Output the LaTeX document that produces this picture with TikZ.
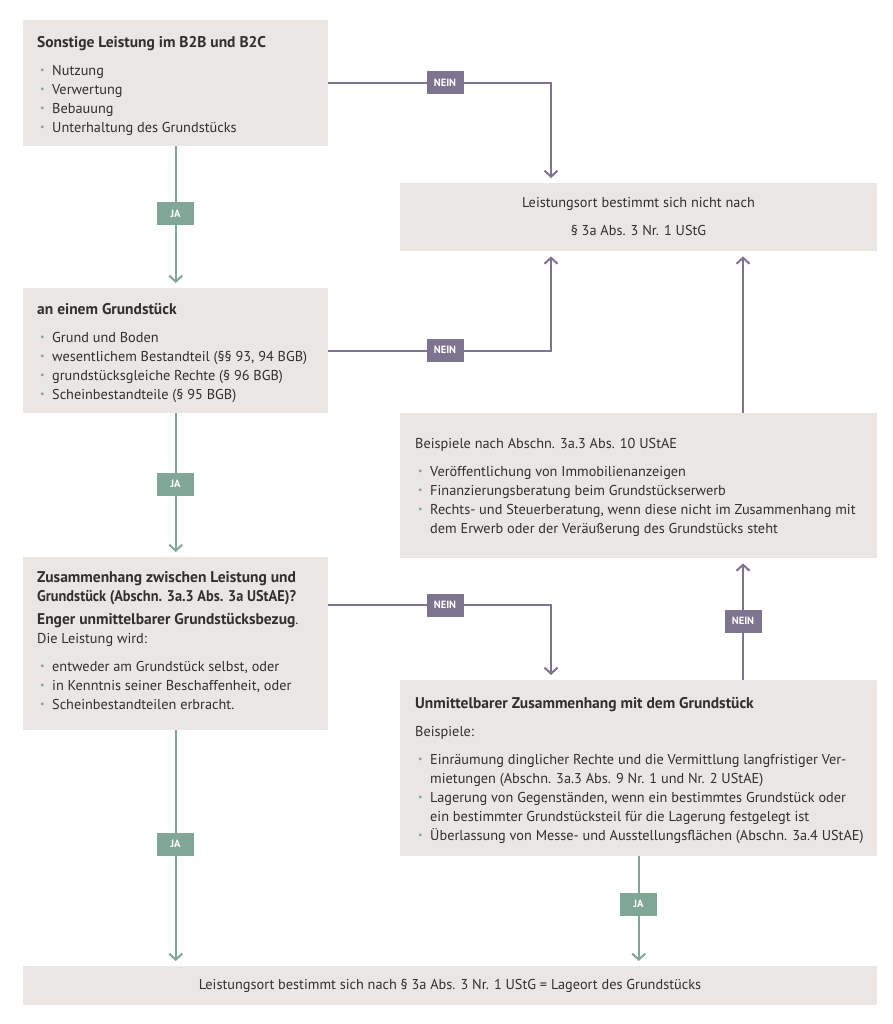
\documentclass[tikz,border=0pt]{standalone}
\usepackage{fontspec}
\setmainfont{PT Sans}
\usetikzlibrary{arrows.meta,calc}
\definecolor{boxgray}{HTML}{EAE6E4}
\definecolor{neinc}{HTML}{7D7590}
\definecolor{jac}{HTML}{80A795}
\definecolor{txtc}{HTML}{303030}
\newcommand\bdot{\textcolor{jac}{\raisebox{0.3ex}{\scalebox{0.7}{\textbullet}}}}
\newcommand\itm{\hspace*{3pt}\makebox[12pt][l]{\bdot}}
\newcommand\cont{\hspace*{15pt}}
\newcommand\hd[1]{{\fontsize{15.5}{19}\selectfont\bfseries #1}}
\tikzset{
 box/.style={fill=boxgray, draw=none, inner sep=0pt, anchor=north west},
 txt/.style={anchor=north west, inner sep=0pt, align=left, text=txtc, font=\fontsize{14.3}{19}\selectfont},
 ctxt/.style={align=center, text=txtc, font=\fontsize{14.3}{19}\selectfont, inner sep=0pt},
 nein/.style={fill=neinc, text=white, font=\bfseries\fontsize{10.5}{10.5}\selectfont, minimum width=37pt, minimum height=23pt, inner sep=0pt},
 ja/.style={nein, fill=jac},
 nline/.style={draw=neinc, line width=2pt, -{Straight Barb[length=6pt,width=13pt]}, shorten >=5pt},
 jline/.style={nline, draw=jac},
}
\begin{document}
\begin{tikzpicture}[x=1pt,y=-1pt]
\useasboundingbox[fill=white] (0,0) rectangle (892,1024);
% boxes
\node[box, minimum width=305pt, minimum height=126pt] (b1) at (23,20) {};
\node[box, minimum width=477pt, minimum height=68pt] (r1) at (400,183) {};
\node[box, minimum width=305pt, minimum height=125pt] (b2) at (23,288) {};
\node[box, minimum width=477pt, minimum height=145pt] (r2) at (400,413) {};
\node[box, minimum width=305pt, minimum height=173pt] (b3) at (23,557) {};
\node[box, minimum width=477pt, minimum height=176pt] (b4) at (400,680) {};
\node[box, minimum width=854pt, minimum height=39pt] (b5) at (23,966) {};
% texts
\node[txt] (t1) at (37,36.5) {\hd{Sonstige Leistung im B2B und B2C}\\[9pt]
\itm Nutzung\\
\itm Verwertung\\
\itm Bebauung\\
\itm Unterhaltung des Grundstücks};
\node[ctxt] (tr1) at (638.5,217) {Leistungsort bestimmt sich nicht nach\\[9pt]
§ 3a Abs. 3 Nr. 1 UStG};
\node[txt] (t2) at (37,303.5) {\hd{an einem Grundstück}\\[9pt]
\itm Grund und Boden\\
\itm wesentlichem Bestandteil (§§ 93, 94 BGB)\\
\itm grundstücksgleiche Rechte (§ 96 BGB)\\
\itm Scheinbestandteile (§ 95 BGB)};
\node[txt] (tr2) at (415,438) {Beispiele nach Abschn. 3a.3 Abs. 10 UStAE\\[9pt]
\itm Veröffentlichung von Immobilienanzeigen\\
\itm Finanzierungsberatung beim Grundstückserwerb\\
\itm Rechts- und Steuerberatung, wenn diese nicht im Zusammenhang mit\\
\cont dem Erwerb oder der Veräußerung des Grundstücks steht};
\node[txt] (t3) at (37,571.5) {\hd{Zusammenhang zwischen Leistung und}\\
\scalebox{0.925}[1]{\hd{Grundstück (Abschn. 3a.3 Abs. 3a UStAE)?}}\\[4pt]
\hd{Enger unmittelbarer Grundstücksbezug}.\\
Die Leistung wird:\\[9pt]
\itm entweder am Grundstück selbst, oder\\
\itm in Kenntnis seiner Beschaffenheit, oder\\
\itm Scheinbestandteilen erbracht.};
\node[txt] (t4) at (415,697.5) {\hd{Unmittelbarer Zusammenhang mit dem Grundstück}\\[9pt]
Beispiele:\\[9pt]
\itm Einräumung dinglicher Rechte und die Vermittlung langfristiger Ver-\\
\cont mietungen (Abschn. 3a.3 Abs. 9 Nr. 1 und Nr. 2 UStAE)\\
\itm Lagerung von Gegenständen, wenn ein bestimmtes Grundstück oder\\
\cont ein bestimmter Grundstücksteil für die Lagerung festgelegt ist\\
\itm Überlassung von Messe- und Ausstellungsflächen (Abschn. 3a.4 UStAE)};
\node[ctxt] (t5) at (450,985.5) {Leistungsort bestimmt sich nach § 3a Abs. 3 Nr. 1 UStG = Lageort des Grundstücks};
% connectors
\coordinate (c1) at (551,0);
\coordinate (c2) at (743,0);
\draw[nline] (b1.east) -| (c1 |- r1.north);
\draw[nline] (b2.east) -| (c1 |- r1.south);
\draw[nline] ($(b3.north east)+(0,48)$) -| (c1 |- b4.north);
\draw[nline] (c2 |- r2.north) -- (c2 |- r1.south);
\draw[nline] (c2 |- b4.north) -- (c2 |- r2.south);
\draw[jline] (b1.south) -- (b2.north);
\draw[jline] (b2.south) -- (b3.north);
\draw[jline] (b3.south) -- (b3.south |- b5.north);
\draw[jline] (b4.south) -- (b4.south |- b5.north);
% labels
\node[nein] (n1) at (445,83) {NEIN};
\node[nein] (n2) at (445,350) {NEIN};
\node[nein] (n3) at (445,605) {NEIN};
\node[nein] (n4) at (743,621) {NEIN};
\node[ja] (j1) at (175.5,214) {JA};
\node[ja] (j2) at (175.5,484) {JA};
\node[ja] (j3) at (175.5,844) {JA};
\node[ja] (j4) at (638.5,904) {JA};
\end{tikzpicture}
\end{document}
